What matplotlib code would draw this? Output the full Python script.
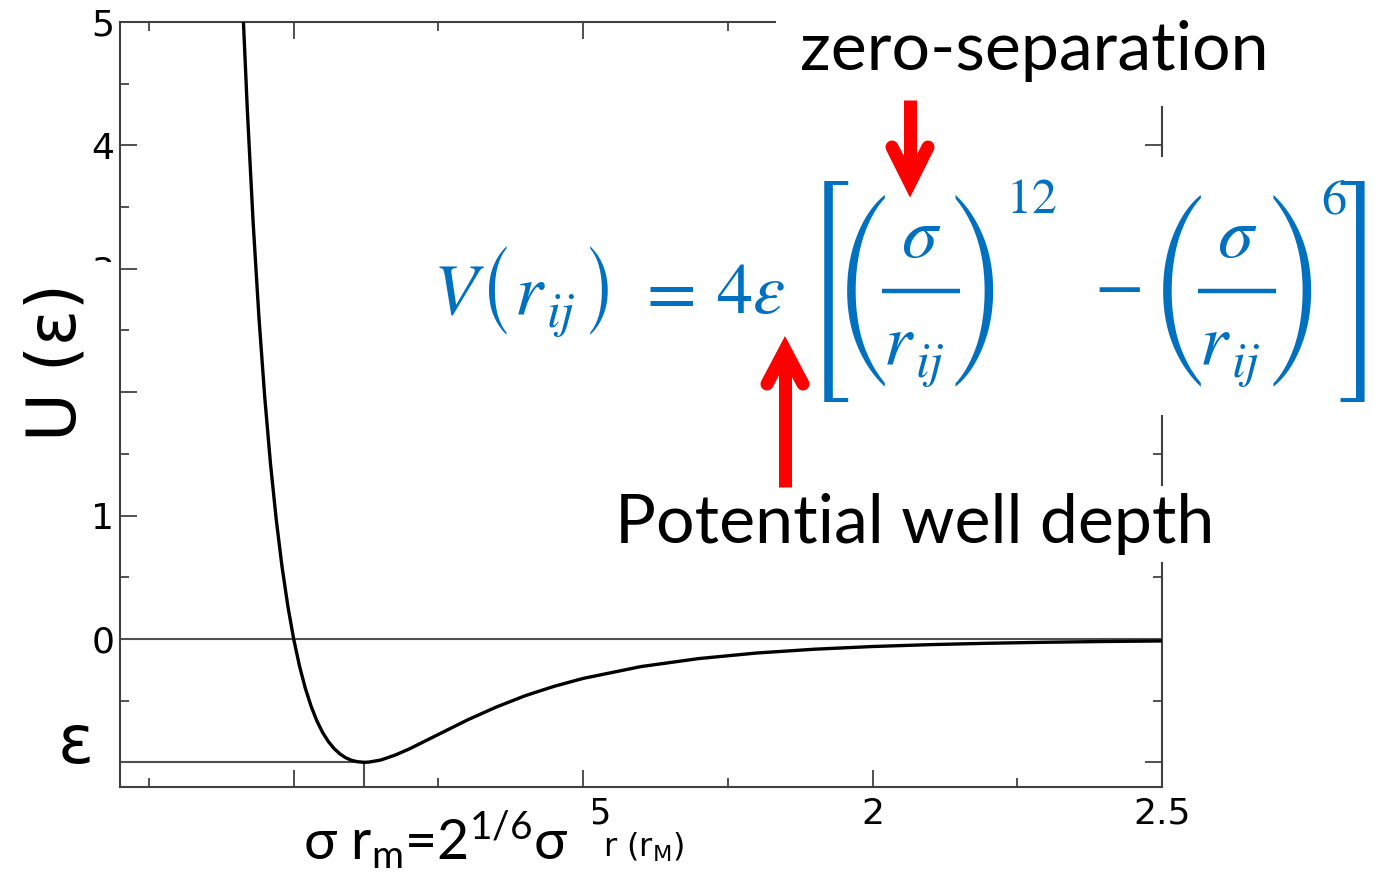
import matplotlib
matplotlib.use('Agg')
import matplotlib.pyplot as plt
from matplotlib.lines import Line2D
from matplotlib.patches import Rectangle

# Lennard-Jones curve (sigma = epsilon = 1)
r_vals = [0.912, 0.92, 0.93, 0.94, 0.95, 0.96, 0.97, 0.98, 0.99, 1.00,
          1.01, 1.02, 1.03, 1.04, 1.05, 1.06, 1.07, 1.08, 1.09, 1.10,
          1.11, 1.122, 1.13, 1.15, 1.175, 1.20, 1.25, 1.30, 1.35, 1.40,
          1.45, 1.50, 1.60, 1.70, 1.80, 1.90, 2.00, 2.10, 2.20, 2.30,
          2.40, 2.50]
u_vals = [5.13, 4.283, 3.373, 2.607, 1.961, 1.418, 0.963, 0.582, 0.264, 0.0,
          -0.218, -0.398, -0.544, -0.663, -0.758, -0.832, -0.889, -0.932, -0.963, -0.984,
          -0.995, -1.0, -0.998, -0.982, -0.942, -0.891, -0.774, -0.657, -0.552, -0.460,
          -0.384, -0.320, -0.224, -0.159, -0.114, -0.0832, -0.0615, -0.0461, -0.0350, -0.0268,
          -0.0208, -0.0163]

r_m = 1.122    # 2^(1/6) sigma
well = -1.0    # -epsilon

x_major = [1.0, 1.5, 2.0, 2.5]
x_major_labels = ['1', '1.5', '2', '2.5']
x_minor = [0.75, 1.25, 1.75, 2.25]
y_major = [-1, 0, 1, 2, 3, 4, 5]
y_major_labels = ['', '0', '1', '2', '3', '4', '5']
y_minor = [-0.5, 0.5, 1.5, 2.5, 3.5, 4.5]

W, H = 1374, 872
blue = '#0070C0'
red = '#FF0000'
grey = '#505050'

plt.rcParams['font.family'] = ['DejaVu Sans']
plt.rcParams['mathtext.fontset'] = 'custom'
plt.rcParams['mathtext.rm'] = 'Lato'
plt.rcParams['mathtext.it'] = 'Lato:italic'
plt.rcParams['mathtext.bf'] = 'Lato:bold'


def fx(x):
    return x / W


def fy(y):
    return 1 - y / H


fig = plt.figure(figsize=(W / 100, H / 100), dpi=100)
ax = fig.add_axes([fx(120), fy(787), (1162 - 120) / W, (787 - 22) / H])

ax.plot(r_vals, u_vals, color='black', lw=2.4, zorder=3)
ax.axhline(0, color=grey, lw=1.5, zorder=2)
ax.plot([0.7, r_m], [well, well], color=grey, lw=1.5, zorder=2)
ax.plot([r_m, r_m], [-1.2, well], color=grey, lw=1.5, zorder=2)

ax.set_xlim(0.7, 2.5)
ax.set_ylim(-1.2, 5)
ax.set_xticks(x_major)
ax.set_xticklabels(x_major_labels)
ax.set_xticks(x_minor, minor=True)
ax.set_yticks(y_major)
ax.set_yticklabels(y_major_labels)
ax.set_yticks(y_minor, minor=True)
ax.tick_params(which='both', direction='in', top=True, right=True,
               color=grey, width=1.4, labelsize=26)
ax.tick_params(which='major', length=12.5)
ax.tick_params(which='minor', length=6.5)
ax.tick_params(axis='y', pad=4)
ax.tick_params(axis='x', pad=7)
for s in ax.spines.values():
    s.set_color('#404040')
    s.set_linewidth(1.5)

# white patches from the pasted-over labels
for (x0, y0, x1, y1) in [(0, 262, 115, 470), (282, 789, 593, 872),
                         (1120, 157, 1374, 415)]:
    fig.add_artist(Rectangle((fx(x0), fy(y1)), (x1 - x0) / W, (y1 - y0) / H,
                             transform=fig.transFigure, facecolor='white',
                             edgecolor='none', zorder=5))

calibri = ['Lato', 'DejaVu Sans']

fig.text(fx(56), fy(362), 'U (ε)', rotation=90, fontsize=48,
         ha='center', va='center', zorder=6)
fig.text(fx(76), fy(744), 'ε', fontsize=48, ha='center', va='center', zorder=6)

fig.text(fx(303), fy(860), r'σ r$_\mathrm{m}$=2$^\mathrm{1/6}$σ', family=calibri,
         fontsize=40, va='baseline', zorder=6)
fig.text(fx(603), fy(857), r'r (r$_\mathrm{M}$)', fontsize=23,
         math_fontfamily='dejavusans', va='baseline', zorder=6)

wbox = dict(facecolor='white', edgecolor='none', boxstyle='square,pad=0.35')
fig.text(fx(800), fy(70), 'zero-separation', family=calibri, fontsize=49,
         va='baseline', bbox=wbox, zorder=6)
fig.text(fx(615), fy(543), 'Potential well depth', family=calibri, fontsize=49,
         va='baseline', zorder=6,
         bbox=dict(facecolor='white', edgecolor='none', boxstyle='square,pad=0.1'))

# ---- formula, put together from pieces ----
fsz = 52
sub = 36


def mtext(x, y, s, size=fsz, ha='left', va='baseline'):
    fig.text(fx(x), fy(y), s, fontsize=size, color=blue, math_fontfamily='stix',
             ha=ha, va=va, zorder=6)


def delim(x, y, s, family, size):
    fig.text(fx(x), fy(y), s, fontsize=size, color=blue, family=family,
             ha='center', va='center', zorder=6)


def rij(x, base):
    mtext(x, base, r'$r$')
    mtext(x + 32, base + 14, r'$ij$', size=sub)


mtext(433, 313, r'$V$')
delim(496, 291, '(', 'STIXSizeOneSym', fsz)
rij(514, 313)
delim(601, 291, ')', 'STIXSizeOneSym', fsz)
mtext(636, 313, r'$=$')
mtext(716, 313, r'$4\varepsilon$')

delim(827, 291, '[', 'STIXSizeThreeSym', 65)
delim(1361, 291, ']', 'STIXSizeThreeSym', 65)

fractions = [(921, 882, 960, 862, 978, 1031, '12'),
             (1237, 1198, 1276, 1178, 1296, 1334, '6')]
for (xc, b0, b1, lp, rp, xe, ex) in fractions:
    mtext(xc, 257, r'$\sigma$', ha='center')
    fig.add_artist(Line2D([fx(b0), fx(b1)], [fy(291), fy(291)],
                          transform=fig.transFigure, color=blue, lw=3.2,
                          solid_capstyle='butt', zorder=6))
    rij(xc - 38, 363)
    delim(lp, 290, '(', 'STIXSizeThreeSym', 56)
    delim(rp, 290, ')', 'STIXSizeThreeSym', 56)
    mtext(xe, 213, '$' + ex + '$', size=36, ha='center')
mtext(1117, 306, r'$-$', ha='center')


def arrow(x, y_tail, y_vertex, y_wing, half):
    lw = 9.4
    fig.add_artist(Line2D([fx(x), fx(x)], [fy(y_tail), fy(y_vertex)],
                          transform=fig.transFigure, color=red, lw=lw,
                          solid_capstyle='butt', zorder=7))
    fig.add_artist(Line2D([fx(x - half), fx(x), fx(x + half)],
                          [fy(y_wing), fy(y_vertex), fy(y_wing)],
                          transform=fig.transFigure, color=red, lw=lw,
                          solid_capstyle='round', solid_joinstyle='miter', zorder=7))


arrow(910, 100, 183, 147, 18)
arrow(785, 487, 350, 384, 18)

fig.savefig('out.png', dpi=100)
